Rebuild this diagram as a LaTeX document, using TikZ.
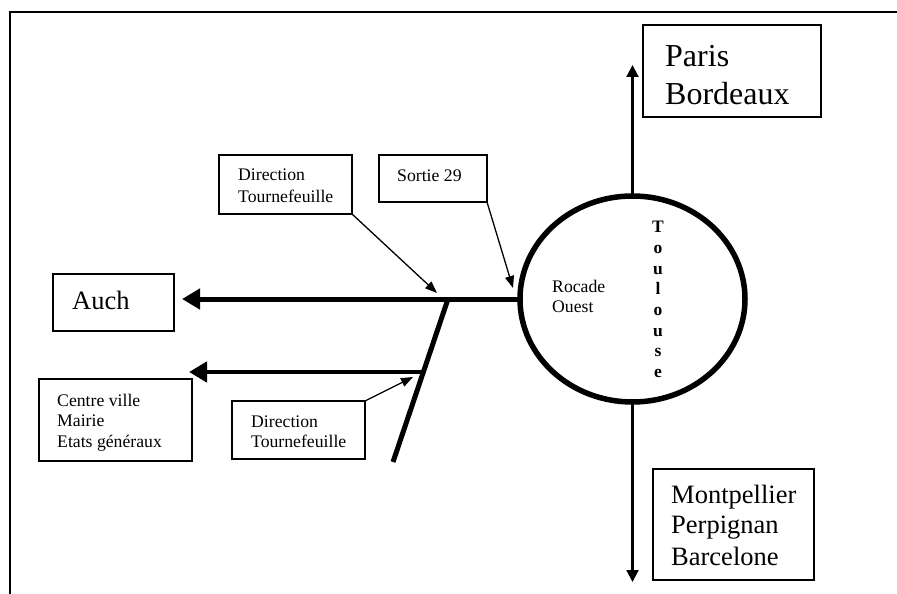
\documentclass[tikz,border=0pt]{standalone}
\usepackage{fontspec}
\setmainfont{Liberation Serif}
\usetikzlibrary{arrows.meta,shapes.geometric}
\begin{document}
\begin{tikzpicture}[x=1bp,y=-1bp,
  box/.style={draw,line width=1.3bp,inner sep=0pt,outer sep=0pt},
  ts/.style={inner sep=0pt,anchor=base west,font=\fontsize{17.7bp}{20.5bp}\selectfont},
  tm/.style={inner sep=0pt,anchor=base west,font=\fontsize{26.5bp}{31bp}\selectfont},
  tl/.style={inner sep=0pt,anchor=base west,font=\fontsize{32bp}{38bp}\selectfont},
  tb/.style={inner sep=0pt,anchor=base,font=\fontsize{17.5bp}{20.5bp}\selectfont\bfseries},
  road/.style={line width=5bp,-{Triangle[length=18bp,width=20bp]}},
  road2/.style={line width=4.5bp,-{Triangle[length=18bp,width=20bp]}},
  axis/.style={line width=2.2bp,-{Triangle[length=12bp,width=12bp]}},
  callout/.style={line width=1.3bp,-{Triangle[length=12bp,width=9bp]}}]
\useasboundingbox (0,0) rectangle (897,594);
% frame
\draw[line width=2.4bp] (10,594) -- (10,12) -- (897,12);
% roundabout
\node[ellipse,draw,line width=5.5bp,minimum width=225bp,minimum height=206bp,inner sep=0pt,outer sep=0pt] (rond) at (632.5,299) {};
% boxes
\node[box,minimum width=178bp,minimum height=92bp] (pb) at (732,71) {};
\node[box,minimum width=161bp,minimum height=111bp] (mpb) at (733.5,524.5) {};
\node[box,minimum width=121bp,minimum height=57bp] (auch) at (113.5,302.5) {};
\node[box,minimum width=153bp,minimum height=82bp] (cv) at (115.5,420) {};
\node[box,minimum width=133bp,minimum height=58bp] (dt2) at (298.5,430) {};
\node[box,minimum width=133bp,minimum height=59bp] (dt1) at (285.5,184.5) {};
\node[box,minimum width=108bp,minimum height=47bp] (s29) at (433,178.5) {};
% texts
\node[tl] (pbA) at (665,67) {Paris};
\node[tl] (pbB) at (665,105) {Bordeaux};
\node[tm] (mpbA) at (671,503) {Montpellier};
\node[tm] (mpbB) at (671,533) {Perpignan};
\node[tm] (mpbC) at (671,565) {Barcelone};
\node[tm] (auchT) at (72,309) {Auch};
\node[ts] (cvA) at (57,406) {Centre ville};
\node[ts] (cvB) at (57,426.5) {Mairie};
\node[ts] (cvC) at (57,447) {Etats généraux};
\node[ts] (dt2A) at (251,427) {Direction};
\node[ts] (dt2B) at (251,447) {Tournefeuille};
\node[ts] (dt1A) at (238,181) {Direction};
\node[ts] (dt1B) at (238,203) {Tournefeuille};
\node[ts] (s29T) at (397,182) {Sortie 29};
\node[ts] (roA) at (552,292) {Rocade};
\node[ts] (roB) at (552,312) {Ouest};
\foreach \l [count=\i] in {T,o,u,l,o,u,s,e}
  \node[tb] (tou\i) at (658,{233+20.6*(\i-1)}) {\l};
% road coordinates
\coordinate (J1) at (448,299);
\coordinate (J2) at (423,372);
\coordinate (S3) at (393,462);
\coordinate (tip1) at (182,299);
\coordinate (tip2) at (189,372);
\coordinate (upTip) at (632.5,65);
\coordinate (downTip) at (632.5,582);
\coordinate (c1) at (437,293);
\coordinate (c2) at (513,288);
\coordinate (c3) at (413,377);
% roads
\draw[road] (rond.west) -- (tip1);
\draw[line width=5bp] (J1) -- (S3);
\draw[road2] (J2) -- (tip2);
\draw[axis] (rond.north) -- (upTip);
\draw[axis] (rond.south) -- (downTip);
% callouts
\draw[callout] (dt1.south east) -- (c1);
\draw[callout] (s29.south east) -- (c2);
\draw[callout] (dt2.north east) -- (c3);
\end{tikzpicture}
\end{document}
